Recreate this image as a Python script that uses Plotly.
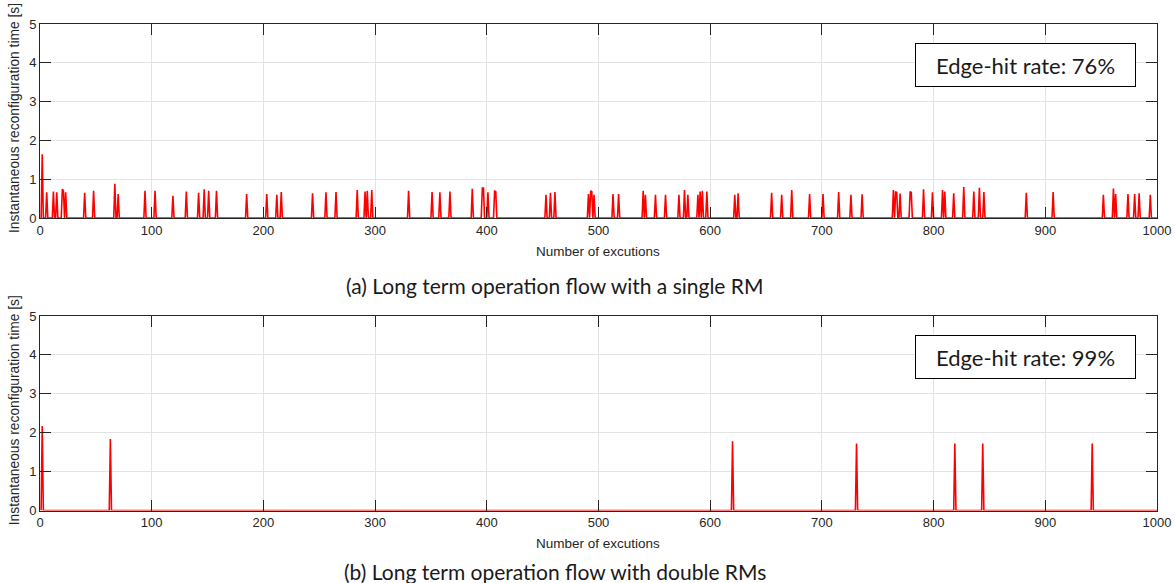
import plotly.graph_objects as go
from plotly.subplots import make_subplots

# ---------------- data ----------------
n_exec = 1000
exec_index = list(range(1, n_exec + 1))

# (a) single RM: spike positions and heights [s]
single_rm_idx = [2, 6, 12, 15, 20, 21, 23, 40, 48, 67, 70, 94, 103, 119, 131, 142, 147, 151, 158,
                 185, 203, 212, 216, 244, 256, 265, 284, 291, 293, 297,
                 330, 351, 358, 367, 387, 396, 397, 401, 407, 408, 453, 457, 461,
                 491, 493, 494, 496, 513, 518, 540, 542, 551, 560, 572, 577, 580,
                 589, 591, 593, 597, 622, 625, 655, 664, 673, 689, 701, 715, 726, 736,
                 764, 766, 767, 770, 779, 780, 791, 799, 808, 810, 818, 827, 836, 841, 845,
                 883, 907, 952, 961, 963, 974, 980, 984, 994]
single_rm_val = [1.64, 0.66, 0.68, 0.66, 0.74, 0.70, 0.66, 0.65, 0.70, 0.88, 0.62, 0.70, 0.70, 0.57, 0.68,
                 0.65, 0.74, 0.70, 0.70, 0.62, 0.62, 0.60, 0.67, 0.64, 0.66, 0.67, 0.72, 0.68, 0.70, 0.72,
                 0.70, 0.67, 0.66, 0.68, 0.75, 0.77, 0.77, 0.66, 0.69, 0.68, 0.60, 0.65, 0.67,
                 0.62, 0.70, 0.68, 0.60, 0.62, 0.62, 0.70, 0.60, 0.60, 0.60, 0.60, 0.72, 0.60,
                 0.60, 0.68, 0.70, 0.68, 0.60, 0.64, 0.65, 0.60, 0.72, 0.62, 0.62, 0.67, 0.60, 0.61,
                 0.72, 0.67, 0.66, 0.63, 0.68, 0.66, 0.74, 0.66, 0.72, 0.68, 0.64, 0.80, 0.68, 0.78, 0.67,
                 0.65, 0.67, 0.60, 0.76, 0.62, 0.62, 0.62, 0.64, 0.60]

# (b) double RMs: spike positions and heights [s]
double_rm_idx = [2, 63, 620, 731, 819, 844, 942]
double_rm_val = [2.17, 1.84, 1.78, 1.72, 1.72, 1.72, 1.72]

hit_rates = ["76%", "99%"]
captions = ["(a) Long term operation flow with a single RM",
            "(b) Long term operation flow with double RMs"]
x_title = "Number of excutions"
y_title = "Instantaneous reconfiguration time [s]"

def series(idx, val):
    y = [0.0] * n_exec
    for i, v in zip(idx, val):
        y[i - 1] = v
    return y

y_single = series(single_rm_idx, single_rm_val)
y_double = series(double_rm_idx, double_rm_val)

# ---------------- figure ----------------
W, H = 1175, 583
fig = make_subplots(rows=2, cols=1)

for r, y in enumerate([y_single, y_double], start=1):
    fig.add_trace(go.Scatter(x=exec_index, y=y, mode="lines",
                             line=dict(color="#ff0000", width=1.6),
                             showlegend=False, hoverinfo="skip"), row=r, col=1)

x_dom = [40 / W, 1157 / W]
top_dom = [1 - 218 / H, 1 - 24 / H]
bot_dom = [1 - 510.5 / H, 1 - 316 / H]

axis_common = dict(
    showline=True, linecolor="#262626", linewidth=1, mirror="ticks",
    ticks="inside", ticklen=11, tickwidth=1, tickcolor="#262626",
    showgrid=True, gridcolor="#e3e3e3", gridwidth=1, zeroline=False,
    tickfont=dict(family="Liberation Sans, Arial", size=13, color="#262626"),
    automargin=False,
)
for i, dom in [(1, top_dom), (2, bot_dom)]:
    fig.update_xaxes(range=[0, 1000], tickvals=list(range(0, 1001, 100)), domain=x_dom,
                     row=i, col=1, **axis_common)
    fig.update_yaxes(range=[0, 5], tickvals=[0, 1, 2, 3, 4, 5], domain=dom,
                     row=i, col=1, **axis_common)

caption_px = [285, 571]
annotations = []
for k, (dom, rate, cap) in enumerate([(top_dom, hit_rates[0], captions[0]),
                                      (bot_dom, hit_rates[1], captions[1])]):
    top_px = (1 - dom[1]) * H
    bot_px = (1 - dom[0]) * H
    mid_px = (top_px + bot_px) / 2
    # y-axis title
    annotations.append(dict(text=y_title, x=14 / W, y=1 - (mid_px - 3) / H, xref="paper", yref="paper",
                            textangle=-90, showarrow=False, xanchor="center", yanchor="middle",
                            font=dict(family="Liberation Sans, Arial", size=13.8, color="#262626")))
    # x-axis title
    annotations.append(dict(text=x_title, x=598 / W, y=1 - (bot_px + 33) / H, xref="paper", yref="paper",
                            showarrow=False, xanchor="center", yanchor="middle",
                            font=dict(family="Liberation Sans, Arial", size=13.5, color="#262626")))
    # caption
    annotations.append(dict(text=cap, x=555 / W, y=1 - caption_px[k] / H, xref="paper", yref="paper",
                            showarrow=False, xanchor="center", yanchor="middle",
                            font=dict(family="Lato", size=21, color="#1a1a1a")))
    # hit-rate box
    annotations.append(dict(text="Edge-hit rate: " + rate, x=1025.5 / W, y=1 - (top_px + 41) / H,
                            xref="paper", yref="paper", showarrow=False,
                            xanchor="center", yanchor="middle",
                            width=219, height=42, borderpad=0, bordercolor="#000000", borderwidth=1,
                            bgcolor="#ffffff",
                            font=dict(family="Lato", size=22, color="#1a1a1a")))

fig.update_layout(width=W, height=H, margin=dict(l=0, r=0, t=0, b=0),
                  paper_bgcolor="white", plot_bgcolor="white", annotations=annotations)

fig.write_html("out.html")
